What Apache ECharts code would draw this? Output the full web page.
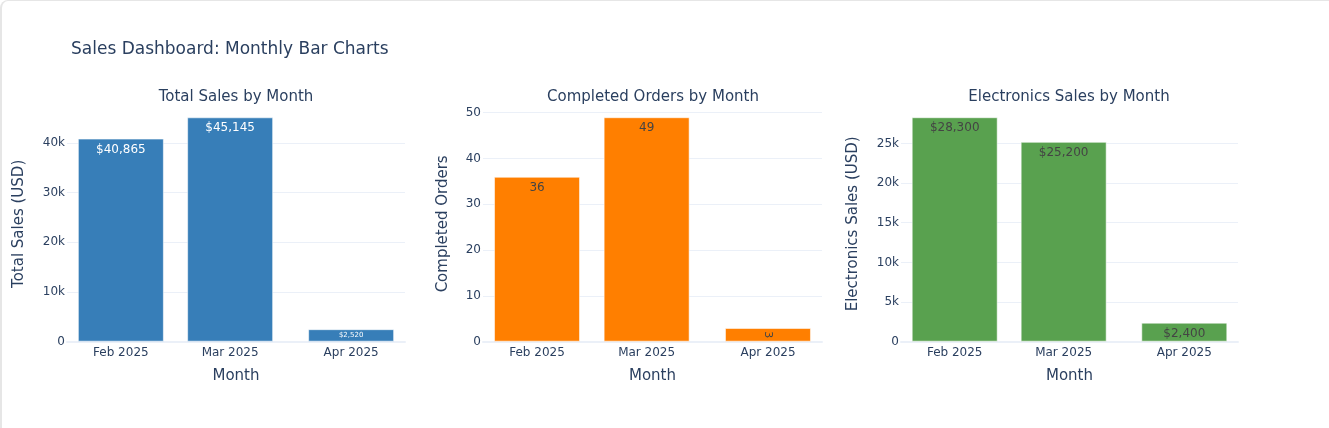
<!DOCTYPE html>
<html>
<head>
<meta charset="utf-8">
<script src="https://cdn.jsdelivr.net/npm/echarts@6/dist/echarts.min.js"></script>
<style>
  html, body { margin: 0; padding: 0; background: #fff; overflow: hidden; }
  #frame {
    position: absolute; left: 0; top: 0; width: 2200px; height: 700px;
    border-left: 2px solid #e6e6e6; border-top: 1px solid #e6e6e6;
    border-top-left-radius: 8px; box-sizing: border-box;
  }
  #main { position: absolute; left: 0; top: 0; width: 1329px; height: 428px; }
</style>
</head>
<body>
<div id="frame"></div>
<div id="main"></div>
<script>
// data
var months = ['2025-02-01', '2025-03-01', '2025-04-01'];
var monthLabels = ['Feb 2025', 'Mar 2025', 'Apr 2025'];
var totalSales = [40865, 45145, 2520];
var completedOrders = [36, 49, 3];
var electronicsSales = [28300, 25200, 2400];

var txt = '#2a3f5f';
var font = 'Verdana, "DejaVu Sans", sans-serif';
var DAY = 86400000;

function toTime(s) {
  var p = s.split('-');
  return Date.UTC(+p[0], +p[1] - 1, +p[2]);
}
// x position = days since the first month, so the month gaps stay uneven like a date axis
var days = months.map(function(s) { return (toTime(s) - toTime(months[0])) / DAY; });

function money(v) {
  return '$' + v.toLocaleString('en-US');
}
function kfmt(v) {
  return v === 0 ? '0' : (v / 1000) + 'k';
}

var myChart = echarts.init(document.getElementById('main'));
window.onresize = function() {
  myChart.resize();
};

var grids = [
  { left: 67, width: 338, top: 106, bottom: 86.3 },
  { left: 483, width: 339, top: 106, bottom: 86.3 },
  { left: 901, width: 337, top: 106, bottom: 86.3 }
];

function xAxisFor(i) {
  return {
    type: 'value',
    gridIndex: i,
    min: days[0] - 13.8,
    max: days[2] + 13.8,
    name: 'Month',
    nameLocation: 'middle',
    nameGap: 27,
    nameTextStyle: { color: txt, fontSize: 15, fontFamily: font },
    axisLine: { show: true, lineStyle: { color: '#ebf0f8', width: 2 } },
    axisTick: { show: false },
    splitLine: { show: false },
    axisLabel: {
      customValues: days,
      color: txt, fontSize: 12, fontFamily: font, margin: 5,
      formatter: function(v) {
        var k = days.indexOf(v);
        return k >= 0 ? monthLabels[k] : '';
      }
    }
  };
}

function yAxisFor(i, name, max, interval, gap, fmt) {
  return {
    type: 'value',
    gridIndex: i,
    min: 0,
    max: max,
    interval: interval,
    name: name,
    nameLocation: 'middle',
    nameGap: gap,
    nameTextStyle: { color: txt, fontSize: 15, fontFamily: font },
    axisLine: { show: false },
    axisTick: { show: false },
    axisLabel: { color: txt, fontSize: 12, fontFamily: font, margin: 2, showMaxLabel: false, formatter: fmt },
    splitLine: { show: true, showMaxLine: false, lineStyle: { color: '#ebf0f8', width: 1 } }
  };
}

function barSeries(i, values, color, labelColor, fmt, small) {
  return {
    type: 'bar',
    xAxisIndex: i,
    yAxisIndex: i,
    barWidth: 86,
    itemStyle: { color: color, borderColor: 'rgba(255,255,255,0.55)', borderWidth: 1 },
    label: {
      show: true, position: 'insideTop', distance: 5,
      color: labelColor, fontSize: 12, fontFamily: font,
      formatter: function(p) { return fmt(p.value[1]); }
    },
    data: values.map(function(v, k) {
      var d = { value: [days[k], v] };
      if (small && small[k]) d.label = small[k];
      return d;
    })
  };
}

var option = {
  animation: false,
  backgroundColor: 'transparent',
  title: [
    { text: 'Sales Dashboard: Monthly Bar Charts', left: 66, top: 36,
      textStyle: { color: txt, fontSize: 17, fontWeight: 'normal', fontFamily: font } },
    { text: 'Total Sales by Month', left: 231, top: 85, textAlign: 'center',
      textStyle: { color: txt, fontSize: 15, fontWeight: 'normal', fontFamily: font } },
    { text: 'Completed Orders by Month', left: 648, top: 85, textAlign: 'center',
      textStyle: { color: txt, fontSize: 15, fontWeight: 'normal', fontFamily: font } },
    { text: 'Electronics Sales by Month', left: 1064, top: 85, textAlign: 'center',
      textStyle: { color: txt, fontSize: 15, fontWeight: 'normal', fontFamily: font } }
  ],
  grid: grids,
  xAxis: [xAxisFor(0), xAxisFor(1), xAxisFor(2)],
  yAxis: [
    yAxisFor(0, 'Total Sales (USD)', 47420, 10000, 40, kfmt),
    yAxisFor(1, 'Completed Orders', 51.45, 10, 32),
    yAxisFor(2, 'Electronics Sales (USD)', 29715, 5000, 40, kfmt)
  ],
  series: [
    barSeries(0, totalSales, '#377eb8', '#ffffff', money,
      { 2: { fontSize: 7, position: 'inside', distance: 0 } }),
    barSeries(1, completedOrders, '#ff7f00', '#444444', function(v) { return String(v); },
      { 2: { fontSize: 11, position: 'inside', rotate: -90, distance: 0 } }),
    barSeries(2, electronicsSales, '#59a14f', '#444444', money)
  ]
};

option && myChart.setOption(option);
</script>
</body>
</html>
